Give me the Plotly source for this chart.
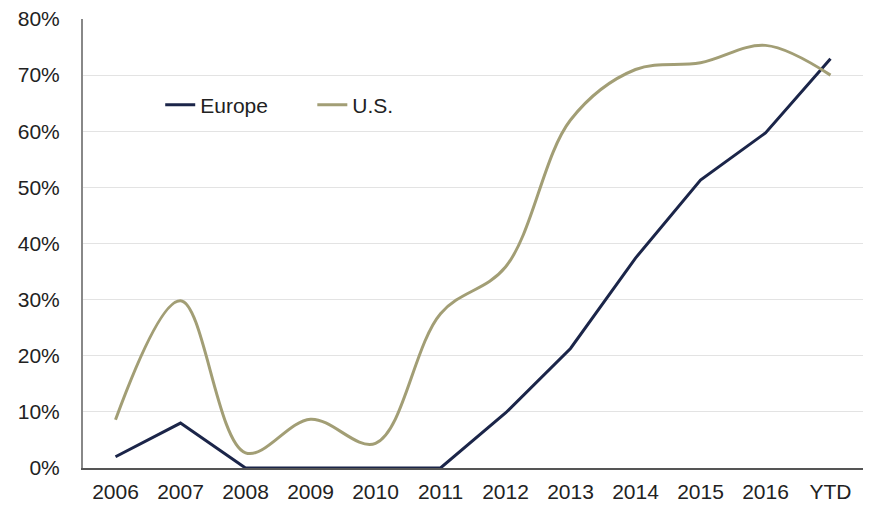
import plotly.graph_objects as go

categories = ["2006", "2007", "2008", "2009", "2010", "2011", "2012", "2013", "2014", "2015", "2016", "YTD"]
europe = [2.0, 8.0, 0.0, 0.0, 0.0, 0.0, 9.8, 21.3, 37.4, 51.3, 59.7, 72.9]
us = [8.6, 29.8, 2.7, 8.7, 4.4, 27.5, 35.8, 62.0, 71.0, 72.2, 75.3, 70.0]
y_ticks = [0, 10, 20, 30, 40, 50, 60, 70, 80]
y_labels = [f"{v}%" for v in y_ticks]

FONT = "Liberation Sans, Arial, sans-serif"

fig = go.Figure()
fig.add_trace(go.Scatter(x=categories, y=europe, name="Europe", mode="lines",
                         line=dict(color="#1b2549", width=3), legend="legend"))
fig.add_trace(go.Scatter(x=categories, y=us, name="U.S.", mode="lines",
                         line=dict(color="#a29e75", width=3, shape="spline", smoothing=1.0),
                         legend="legend2"))

leg_common = dict(orientation="h", xanchor="left", yanchor="middle",
                  font=dict(family=FONT, size=21, color="#222222"),
                  bgcolor="rgba(0,0,0,0)", itemwidth=30)

fig.update_layout(
    width=869, height=509,
    margin=dict(l=83, r=6, t=19, b=41),
    paper_bgcolor="white", plot_bgcolor="white",
    font=dict(family=FONT, size=21, color="#222222"),
    showlegend=True,
    legend=dict(x=0.099, y=0.808, **leg_common),
    legend2=dict(x=0.294, y=0.808, **leg_common),
)
fig.update_xaxes(type="category", range=[-0.5, 11.5], showgrid=False, showline=True,
                 linecolor="#555555", linewidth=2, automargin=False,
                 ticks="", tickfont=dict(size=21), ticklabelstandoff=4)
fig.update_yaxes(range=[0, 80], tickvals=y_ticks, ticktext=y_labels, showgrid=True,
                 gridcolor="#e3e3e3", gridwidth=1, showline=True, linecolor="#888888", linewidth=2,
                 zeroline=False, ticks="", automargin=False, tickfont=dict(size=21),
                 ticklabelstandoff=17)

fig.write_html("out.html")
